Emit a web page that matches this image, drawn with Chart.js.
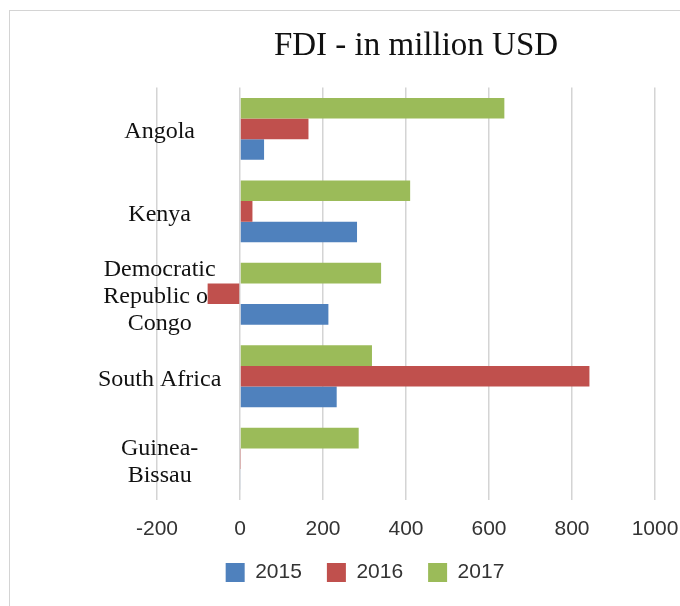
<!DOCTYPE html>
<html lang="en">
<head>
    <meta charset="UTF-8">
    <title>FDI - in million USD</title>
    <script src="https://cdn.jsdelivr.net/npm/chart.js"></script>
    <style>
        html, body { margin: 0; padding: 0; background: #fff; overflow: hidden; }
        .frame {
            position: absolute; left: 9px; top: 10px; width: 720px; height: 640px;
            border-left: 1px solid #d4d4d4; border-top: 1px solid #d4d4d4;
        }
        #fdiChart { position: absolute; left: 0; top: 0; }
    </style>
</head>
<body>
    <div class="frame"></div>
    <canvas id="fdiChart" width="680" height="606"></canvas>
    <script>
        // categories, top to bottom
        const countries = ['Angola', 'Kenya', ['Democratic', 'Republic of', 'Congo'], 'South Africa', ['Guinea-', 'Bissau']];
        const years = ['2015', '2016', '2017'];

        // FDI values, million USD
        const fdi2015 = [58, 282, 213, 233, 2];
        const fdi2016 = [165, 30, -78, 842, 1];
        const fdi2017 = [637, 410, 340, 318, 286];

        const xTicks = [-200, 0, 200, 400, 600, 800, 1000];

        const blue = '#4f81bd', red = '#c0504d', green = '#9bbb59';

        // shifts title / legend to where they sit in the original picture
        const centerBoxes = {
            id: 'centerBoxes',
            afterLayout(chart, args, opts) {
                [[chart.titleBlock, opts.title], [chart.legend, opts.legend]].forEach(([box, cx]) => {
                    if (!box) return;
                    const d = cx - (box.left + box.right) / 2;
                    box.left += d;
                    box.right += d;
                });
            }
        };

        const ctx = document.getElementById('fdiChart');

        new Chart(ctx, {
            type: 'bar',
            data: {
                labels: countries,
                // 2017 first so it sits on top inside each group
                datasets: [
                    { label: years[2], data: fdi2017, backgroundColor: green },
                    { label: years[1], data: fdi2016, backgroundColor: red },
                    { label: years[0], data: fdi2015, backgroundColor: blue }
                ]
            },
            options: {
                indexAxis: 'y',
                responsive: false,
                animation: false,
                devicePixelRatio: 1,
                categoryPercentage: 0.75,
                barPercentage: 1,
                borderWidth: 0,
                layout: { padding: { left: 0, right: 25, top: 0, bottom: 13 } },
                scales: {
                    x: {
                        min: xTicks[0],
                        max: xTicks[xTicks.length - 1],
                        afterBuildTicks(s) { s.ticks = xTicks.map(v => ({ value: v })); },
                        afterFit(s) { s.paddingLeft = 0; s.paddingRight = 0; s.height = 37; },
                        grid: { color: '#d4d4d4', lineWidth: 1.5, drawTicks: false },
                        border: { display: false },
                        ticks: {
                            padding: 17,
                            color: '#333',
                            font: { family: 'Liberation Sans', size: 21 },
                            callback: v => String(v)
                        }
                    },
                    y: {
                        position: 'left',
                        afterFit(s) { s.width = 157; s.paddingTop = 0; s.paddingBottom = 0; },
                        grid: { display: false, drawTicks: false },
                        border: { display: false },
                        ticks: {
                            autoSkip: false,
                            mirror: true,
                            crossAlign: 'center',
                            padding: -59,
                            labelOffset: 3,
                            z: -1,
                            color: '#111',
                            font: { family: 'Liberation Serif', size: 24, lineHeight: 1.125 }
                        }
                    }
                },
                plugins: {
                    title: {
                        display: true,
                        text: 'FDI - in million USD',
                        color: '#111',
                        font: { family: 'Liberation Serif', size: 33, weight: 'normal' },
                        padding: { top: 27, bottom: 21 }
                    },
                    legend: {
                        position: 'bottom',
                        reverse: true,
                        labels: {
                            boxWidth: 19,
                            boxHeight: 19,
                            padding: 25,
                            color: '#333',
                            font: { family: 'Liberation Sans', size: 21 }
                        }
                    },
                    tooltip: { enabled: false },
                    centerBoxes: { title: 416, legend: 365 }
                }
            },
            plugins: [centerBoxes]
        });
    </script>
</body>
</html>
